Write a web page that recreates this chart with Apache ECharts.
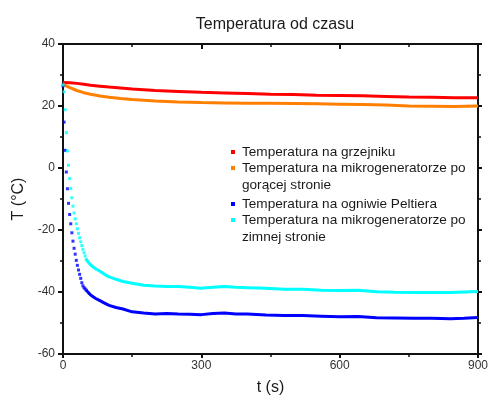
<!DOCTYPE html>
<html>
<head>
<meta charset="utf-8">
<script src="https://cdn.jsdelivr.net/npm/echarts@6/dist/echarts.min.js"></script>
<style>
  html, body { margin: 0; padding: 0; background: #fff; }
  #chart { width: 491px; height: 401px; }
</style>
</head>
<body>
<div id="chart"></div>
<script>
// nazwy serii (legenda)
var seriesNames = [
  'Temperatura na grzejniku',
  'Temperatura na mikrogeneratorze po\ngorącej stronie',
  'Temperatura na ogniwie Peltiera',
  'Temperatura na mikrogeneratorze po\nzimnej stronie'
];
var seriesColors = ['#ff0000', '#ff8000', '#0000ff', '#00ffff'];

// osie
var xTicks = [0, 300, 600, 900];
var yTicks = [-60, -40, -20, 0, 20, 40];

// grzejnik + strona gorąca (czas w s, temperatura w °C)
var hotTime = [0, 15, 30, 45, 60, 80, 100, 125, 150, 200, 250, 300, 350, 400, 450, 500, 550, 600, 650, 700, 750, 800, 850, 900];
var redTemp = [27.6, 27.5, 27.3, 27.0, 26.7, 26.4, 26.1, 25.8, 25.5, 25.0, 24.7, 24.4, 24.2, 24.0, 23.8, 23.7, 23.5, 23.4, 23.3, 23.1, 22.9, 22.8, 22.7, 22.7];
var orangeTemp = [27.0, 25.9, 25.0, 24.3, 23.8, 23.2, 22.8, 22.4, 22.1, 21.6, 21.3, 21.1, 21.0, 20.9, 20.9, 20.8, 20.7, 20.6, 20.5, 20.3, 20.0, 19.9, 19.8, 20.0];

// poczatek chlodzenia - pojedyncze punkty
var earlyTime = [0, 2.4, 4.8, 7.2, 9.6, 12, 14.4, 16.8, 19.2, 21.6, 24, 26.4, 28.8, 31.2, 33.6, 36, 38.4, 40.8, 43.2, 45.6, 48, 50.4];
var blueEarly = [26.5, 14.8, 5.7, -1.3, -6.7, -11.4, -15.0, -18.0, -20.9, -23.6, -25.9, -27.8, -29.8, -31.4, -32.9, -34.3, -35.6, -37.0, -38.0, -38.6, -39.0, -39.4];
var cyanEarly = [26.8, 24.6, 18.8, 11.4, 5.5, 0.9, -3.4, -6.6, -9.6, -12.3, -14.5, -16.4, -18.0, -19.6, -21.1, -22.5, -23.8, -25.0, -26.2, -27.3, -28.4, -29.5];

// dalsza czesc - gesto, jak linia
var lateTime = [50.4, 55, 60, 70, 80, 90, 100, 115, 130, 150, 175, 200, 225, 250, 275, 300, 325, 350, 375, 400, 440, 480, 520, 560, 600, 640, 680, 720, 760, 800, 840, 870, 900];
var blueLate = [-39.4, -40.2, -41.0, -42.0, -42.8, -43.6, -44.3, -45.0, -45.5, -46.4, -46.8, -47.1, -46.9, -47.1, -47.2, -47.3, -46.9, -46.8, -47.1, -47.1, -47.4, -47.6, -47.6, -47.8, -48.0, -47.9, -48.3, -48.4, -48.5, -48.5, -48.6, -48.5, -48.2];
var cyanLate = [-29.5, -30.4, -31.3, -32.4, -33.3, -34.3, -35.1, -35.9, -36.6, -37.2, -37.8, -38.1, -38.2, -38.2, -38.5, -38.8, -38.5, -38.2, -38.5, -38.6, -38.8, -39.1, -39.1, -39.4, -39.5, -39.4, -39.9, -40.1, -40.2, -40.2, -40.2, -40.0, -39.8];

var FONT = '"Liberation Sans", Arial, sans-serif';

function pairs(xs, ys) {
  var out = [];
  for (var i = 0; i < xs.length; i++) out.push([xs[i], ys[i]]);
  return out;
}

function lineSeries(name, color, xs, ys) {
  return {
    name: name, type: 'line', data: pairs(xs, ys),
    showSymbol: false, symbol: 'none', smooth: false, silent: true,
    lineStyle: { color: color, width: 3 }, z: 3
  };
}

function dotSeries(name, color, xs, ys) {
  return {
    name: name, type: 'scatter', data: pairs(xs, ys),
    symbol: 'rect', symbolSize: 3, silent: true,
    itemStyle: { color: color }, z: 4
  };
}

// legenda rysowana recznie (znacznik przy pierwszej linii tekstu)
var legendTop = [152, 168, 204, 220];
var legendGraphic = [];
seriesNames.forEach(function (name, i) {
  legendGraphic.push({
    type: 'rect', left: 231, top: legendTop[i] - 2,
    shape: { width: 4, height: 4 }, style: { fill: seriesColors[i] }, silent: true
  });
  legendGraphic.push({
    type: 'text', left: 242, top: legendTop[i] - 8,
    style: { text: name, font: '13.6px ' + FONT, fill: '#1a1a1a', lineHeight: 16.5 }, silent: true
  });
});

var chart = echarts.init(document.getElementById('chart'), null, { renderer: 'canvas' });

var axisLine = { show: true, onZero: false, lineStyle: { color: '#111', width: 2 } };

chart.setOption({
  backgroundColor: '#fff',
  animation: false,
  title: {
    text: 'Temperatura od czasu', left: 270, top: 12, textAlign: 'center',
    textStyle: { fontFamily: FONT, fontSize: 16, fontWeight: 'normal', color: '#1a1a1a' }
  },
  grid: { left: 63, right: 12, top: 44, bottom: 46 },
  xAxis: [{
    type: 'value', position: 'bottom', min: xTicks[0], max: xTicks[xTicks.length - 1], interval: 300,
    name: 't (s)', nameLocation: 'middle', nameGap: 26,
    nameTextStyle: { fontFamily: FONT, fontSize: 16, color: '#1a1a1a' },
    axisLine: axisLine,
    axisTick: { show: true, length: 4, lineStyle: { color: '#111', width: 2 } },
    minorTick: { show: true, splitNumber: 2, length: 3, lineStyle: { color: '#111', width: 1.5 } },
    axisLabel: { fontFamily: FONT, fontSize: 12, color: '#333', margin: 6 },
    splitLine: { show: false }
  }, {
    type: 'value', position: 'top', min: xTicks[0], max: xTicks[xTicks.length - 1], interval: 300,
    axisLine: axisLine,
    axisTick: { show: true, inside: true, length: 5, lineStyle: { color: '#111', width: 2 } },
    minorTick: { show: true, splitNumber: 2, length: 3, lineStyle: { color: '#111', width: 1.5 } },
    axisLabel: { show: false },
    splitLine: { show: false }
  }],
  yAxis: [{
    type: 'value', position: 'left', min: yTicks[0], max: yTicks[yTicks.length - 1], interval: 20,
    name: 'T (°C)', nameLocation: 'middle', nameGap: 36,
    nameTextStyle: { fontFamily: FONT, fontSize: 16, color: '#1a1a1a' },
    axisLine: axisLine,
    axisTick: { show: true, length: 5, lineStyle: { color: '#111', width: 2 } },
    minorTick: { show: true, splitNumber: 2, length: 3, lineStyle: { color: '#111', width: 1.5 } },
    axisLabel: { fontFamily: FONT, fontSize: 12, color: '#333', margin: 8 },
    splitLine: { show: false }
  }, {
    type: 'value', position: 'right', min: yTicks[0], max: yTicks[yTicks.length - 1], interval: 20,
    axisLine: axisLine,
    axisTick: { show: true, length: 4, lineStyle: { color: '#111', width: 2 } },
    minorTick: { show: true, splitNumber: 2, length: 3, lineStyle: { color: '#111', width: 1.5 } },
    axisLabel: { show: false },
    splitLine: { show: false }
  }],
  graphic: legendGraphic,
  series: [
    lineSeries(seriesNames[0], seriesColors[0], hotTime, redTemp),
    lineSeries(seriesNames[1], seriesColors[1], hotTime, orangeTemp),
    dotSeries(seriesNames[2], seriesColors[2], earlyTime, blueEarly),
    lineSeries(seriesNames[2], seriesColors[2], lateTime, blueLate),
    dotSeries(seriesNames[3], seriesColors[3], earlyTime, cyanEarly),
    lineSeries(seriesNames[3], seriesColors[3], lateTime, cyanLate)
  ]
});
</script>
</body>
</html>
